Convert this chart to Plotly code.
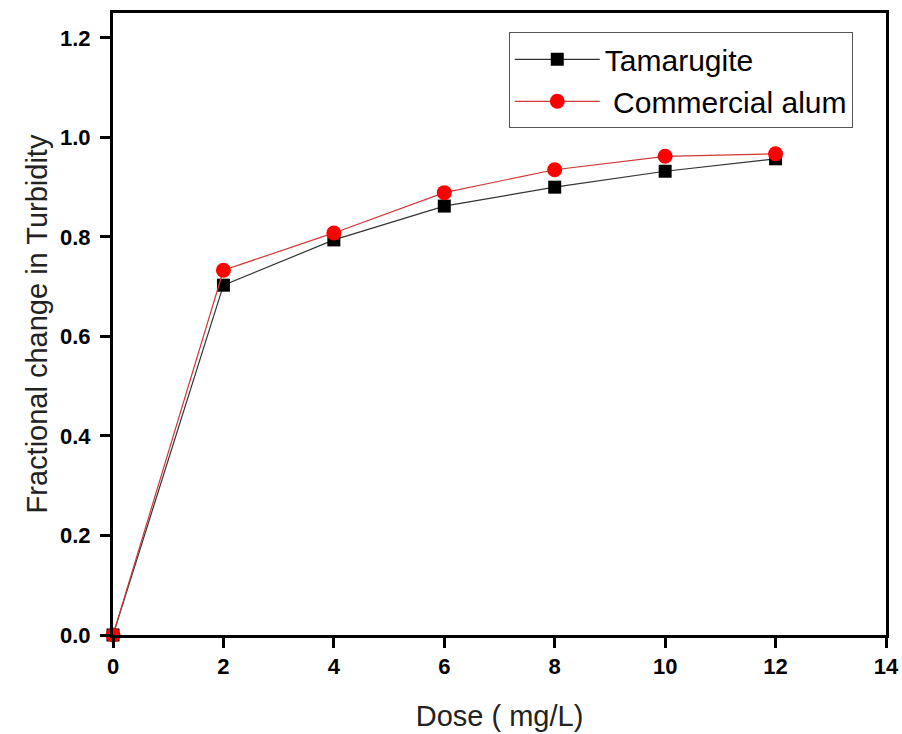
import plotly.graph_objects as go

dose = [0, 2, 4, 6, 8, 10, 12]
tamarugite = [0.0, 0.703, 0.794, 0.862, 0.900, 0.932, 0.957]
alum = [0.0, 0.733, 0.808, 0.889, 0.935, 0.962, 0.967]
x_ticks = [0, 2, 4, 6, 8, 10, 12, 14]
y_ticks = [0.0, 0.2, 0.4, 0.6, 0.8, 1.0, 1.2]

FONT = "Arial, Liberation Sans, sans-serif"

fig = go.Figure()
fig.add_trace(go.Scatter(
    x=dose, y=tamarugite, mode="lines+markers", name="Tamarugite",
    line=dict(color="#333333", width=1.2),
    marker=dict(symbol="square", size=13, color="black"),
    cliponaxis=False,
))
fig.add_trace(go.Scatter(
    x=dose, y=alum, mode="lines+markers", name=" Commercial alum",
    line=dict(color="#d03838", width=1.2),
    marker=dict(symbol="circle", size=15, color="#ff0000"),
    cliponaxis=False,
))

axis_common = dict(
    showline=True, linecolor="black", linewidth=3, mirror=True,
    ticks="outside", ticklen=10, tickwidth=3, tickcolor="black",
    showgrid=False, zeroline=False,
    tickfont=dict(family=FONT, size=22, color="black", weight="bold"),
)

fig.update_layout(
    width=902, height=734,
    margin=dict(l=113, r=16, t=13, b=99),
    paper_bgcolor="white", plot_bgcolor="white",
    showlegend=True,
    legend=dict(
        x=0.512, y=0.969, xanchor="left", yanchor="top",
        bordercolor="#555555", borderwidth=1,
        bgcolor="white",
        font=dict(family=FONT, size=30, color="black"),
        tracegroupgap=0, itemwidth=85,
    ),
    xaxis=dict(
        range=[0, 14], tickvals=x_ticks, automargin=False,
        title=dict(text="Dose ( mg/L)", font=dict(family=FONT, size=29, color="#222222"), standoff=28),
        **axis_common,
    ),
    yaxis=dict(
        range=[0, 1.25], tickvals=y_ticks, tickformat=".1f", ticklabelstandoff=5,
        automargin=True,
        title=dict(text="Fractional change in Turbidity", font=dict(family=FONT, size=29, color="#222222"), standoff=4),
        **axis_common,
    ),
)

fig.write_html("out.html", config={"displayModeBar": False},
               post_script="document.body.style.margin='0';")
